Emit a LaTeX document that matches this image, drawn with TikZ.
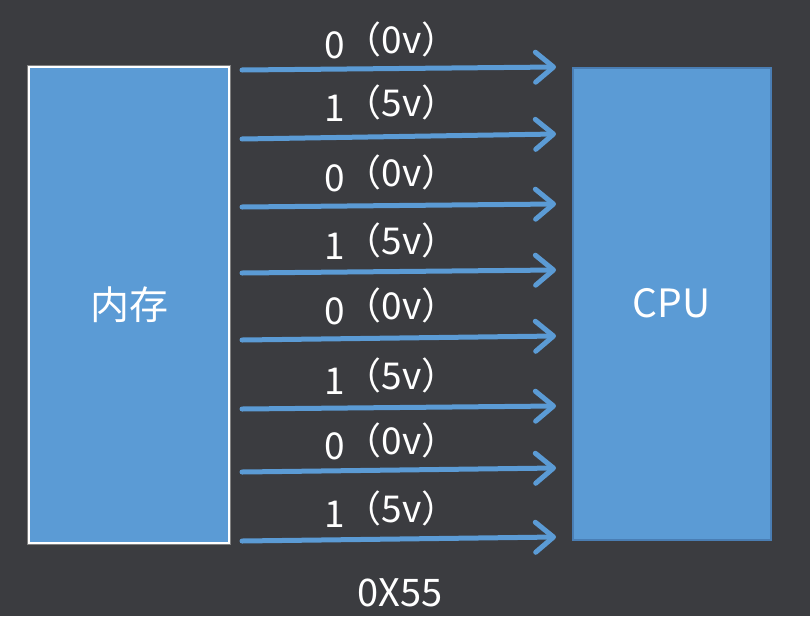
\documentclass[tikz,border=0pt]{standalone}
\usepackage{fontspec}
\setmainfont{Noto Sans CJK SC}
\usetikzlibrary{arrows.meta,positioning}
\definecolor{board}{HTML}{3B3C40}
\definecolor{chipblue}{HTML}{5B9BD5}
\definecolor{chipedge}{HTML}{4A7EB4}
\tikzset{>={Straight Barb[length=18pt,width=30pt,round]},
  every node/.style={text=white},
  bus/.style={->,draw=chipblue,line width=5pt,line cap=round},
  bitlabel/.style={anchor=west,inner sep=0pt,font=\fontsize{37}{40}\selectfont}}
\begin{document}
\begin{tikzpicture}[x=1pt,y=-1pt,chip/.style={fill=chipblue,minimum width=200pt,inner sep=0pt,font=\fontsize{39}{44}\selectfont}]
\useasboundingbox[fill=board] (0,0) rectangle (810,616);
\node[chip,draw=white,line width=1.5pt,minimum height=476pt,preaction={draw=gray,line width=4.5pt}] (mem) at (129,305) {内存};
\node[chip,draw=chipedge,line width=2pt,minimum width=198pt,minimum height=472pt] (cpu) at (671.5,303.5) {CPU};
% eight data lines, one bit each
\foreach \k/\bit/\volt/\ys/\ye/\yl in {1/0/0/70/67/40,2/1/5/139/134/103,3/0/0/207/204/173,4/1/5/273/270/241,
  5/0/0/340/336/306,6/1/5/409/406/376,7/0/0/472/468/441,8/1/5/541/537/509}{
 \coordinate (src\k) at (242,\ys);
 \coordinate (dst\k) at (556,\ye);
 \draw[bus] (src\k)--(dst\k);
 \node[bitlabel] (bit\k) at (324,\yl) {\bit\raisebox{5pt}{（\volt v）}};}
\node[font=\fontsize{38}{42}\selectfont] (value) at (400,593) {0X55};
\end{tikzpicture}
\end{document}
